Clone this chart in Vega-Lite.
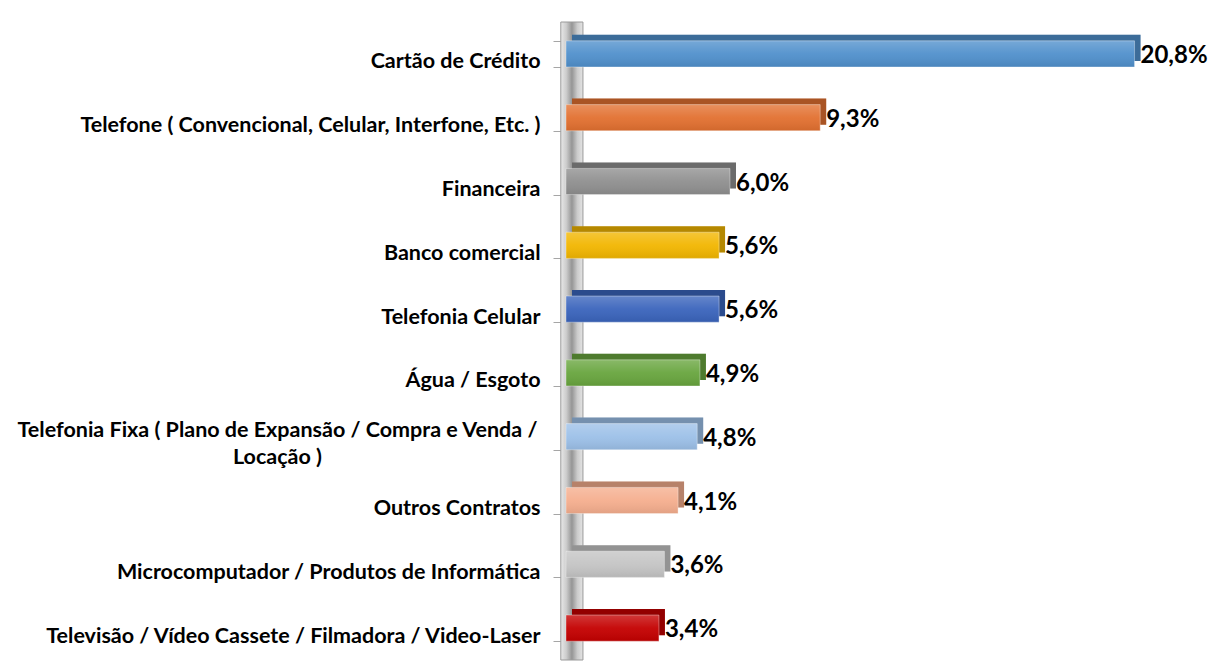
{
  "$schema": "https://vega.github.io/schema/vega-lite/v6.json",
  "autosize": {"type": "none"},
  "padding": {"left": 566, "top": 22, "right": 75, "bottom": 2},
  "width": 574,
  "height": 638,
  "background": "white",
  "config": {"view": {"stroke": null}},
  "datasets": {
    "bars": [
      {"cat": "Cartão de Crédito", "v": 20.8},
      {"cat": "Telefone ( Convencional, Celular, Interfone, Etc. )", "v": 9.3},
      {"cat": "Financeira", "v": 6.0},
      {"cat": "Banco comercial", "v": 5.6},
      {"cat": "Telefonia Celular", "v": 5.6},
      {"cat": "Água / Esgoto", "v": 4.9},
      {"cat": "Telefonia Fixa ( Plano de Expansão / Compra e Venda / Locação )", "v": 4.8},
      {"cat": "Outros Contratos", "v": 4.1},
      {"cat": "Microcomputador / Produtos de Informática", "v": 3.6},
      {"cat": "Televisão / Vídeo Cassete / Filmadora / Video-Laser", "v": 3.4}
    ],
    "wall": [{"x0": -0.19, "x1": 0.62}]
  },
  "layer": [
    {
      "data": {"name": "wall"},
      "mark": {
        "type": "rect",
        "stroke": "#9a9a9a",
        "strokeWidth": 1,
        "fill": {
          "gradient": "linear", "x1": 0, "y1": 0, "x2": 1, "y2": 0,
          "stops": [
            {"offset": 0, "color": "#e8e8e8"},
            {"offset": 0.25, "color": "#cccccc"},
            {"offset": 0.5, "color": "#959595"},
            {"offset": 0.75, "color": "#cccccc"},
            {"offset": 1, "color": "#e4e4e4"}
          ]
        }
      },
      "encoding": {
        "x": {"field": "x0", "type": "quantitative", "scale": {"domain": [0, 21], "nice": false, "zero": true}, "axis": null},
        "x2": {"field": "x1"}
      }
    },
    {
      "data": {"name": "bars"},
      "transform": [
        {"calculate": "replace(format(datum.v, '.1f'), '.', ',') + '%'", "as": "label"}
      ],
      "encoding": {
        "y": {
          "field": "cat", "type": "nominal", "sort": null,
          "scale": {"paddingInner": 0.59, "paddingOuter": 0.295},
          "axis": {
            "title": null,
            "domain": false,
            "offset": 5,
            "ticks": true,
            "tickSize": 8,
            "tickColor": "#a6a6a6",
            "tickBand": "extent",
            "tickOffset": 5,
            "labelOffset": {"condition": {"test": "datum.value == 'Telefonia Fixa ( Plano de Expansão / Compra e Venda / Locação )'", "value": -6}, "value": 8},
            "labelPadding": {"condition": {"test": "datum.value == 'Telefonia Fixa ( Plano de Expansão / Compra e Venda / Locação )'", "value": 276}, "value": 13},
            "labelAlign": {"condition": {"test": "datum.value == 'Telefonia Fixa ( Plano de Expansão / Compra e Venda / Locação )'", "value": "center"}, "value": "right"},
            "labelFont": "Lato",
            "labelFontWeight": "bold",
            "labelFontSize": 21.5,
            "labelColor": "#000000",
            "labelLimit": 0,
            "labelLineHeight": 27,
            "labelExpr": "datum.value == 'Telefonia Fixa ( Plano de Expansão / Compra e Venda / Locação )' ? ['Telefonia Fixa ( Plano de Expansão / Compra e Venda /', 'Locação )'] : datum.label"
          }
        },
        "x": {"field": "v", "type": "quantitative", "scale": {"domain": [0, 21], "nice": false}, "axis": null}
      },
      "layer": [
        {
          "mark": {"type": "bar", "xOffset": 6, "x2Offset": 6, "yOffset": -6, "y2Offset": -6},
          "encoding": {
            "color": {
              "field": "cat", "type": "nominal", "sort": null, "legend": null,
              "scale": {"range": ["#5090cc", "#e27030", "#8f8f8f", "#f2b600", "#3a64bc", "#68a53e", "#9cc0e8", "#f5ae8e", "#c4c4c4", "#c40000"]}
            }
          }
        },
        {
          "mark": {"type": "bar", "xOffset": 6, "x2Offset": 6, "yOffset": -6, "y2Offset": -6, "color": "#000000", "opacity": 0.25}
        },
        {
          "mark": {"type": "bar"},
          "encoding": {
            "color": {"field": "cat", "type": "nominal", "sort": null, "legend": null}
          }
        },
        {
          "mark": {
            "type": "bar",
            "fill": {
              "gradient": "linear", "x1": 0, "y1": 0, "x2": 0, "y2": 1,
              "stops": [
                {"offset": 0, "color": "rgba(255,255,255,0.22)"},
                {"offset": 0.5, "color": "rgba(255,255,255,0.05)"},
                {"offset": 1, "color": "rgba(0,0,0,0.08)"}
              ]
            },
            "stroke": "rgba(255,255,255,0.35)",
            "strokeWidth": 1
          }
        },
        {
          "mark": {"type": "text", "align": "left", "baseline": "middle", "dx": 6, "dy": 2, "font": "Lato", "fontWeight": "bold", "fontSize": 24, "color": "#000000"},
          "encoding": {"text": {"field": "label"}}
        }
      ]
    }
  ]
}
